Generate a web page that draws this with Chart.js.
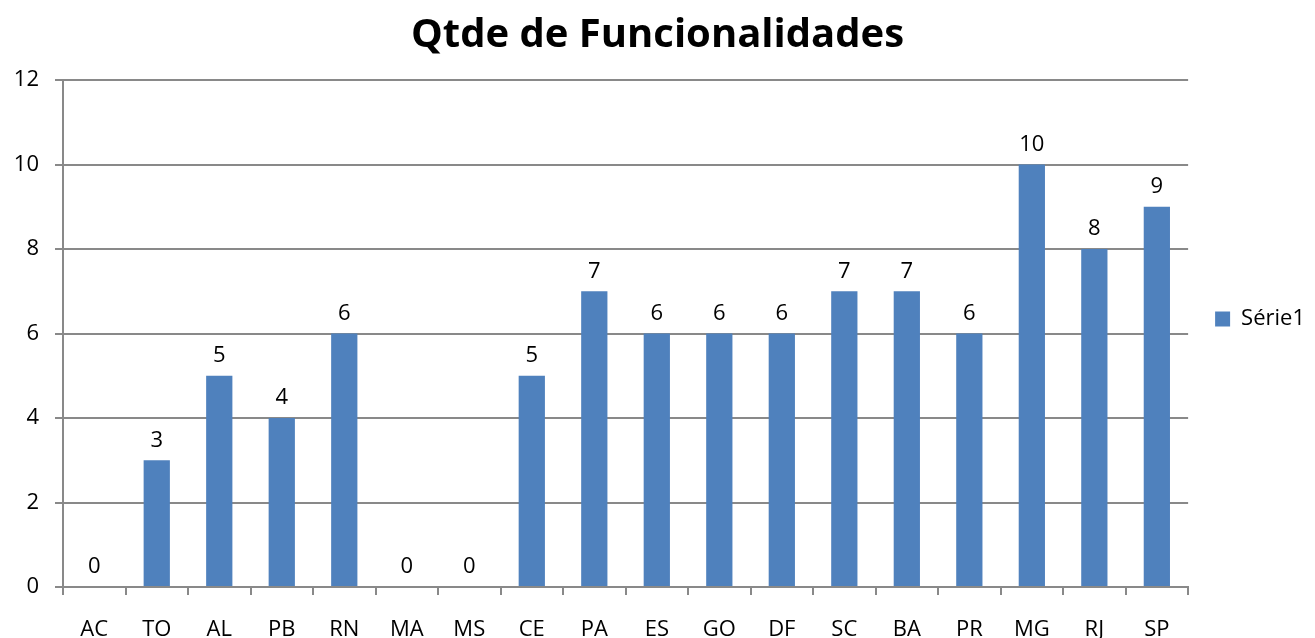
<!DOCTYPE html>
<html>
<head>
<meta charset="utf-8">
<script src="https://cdn.jsdelivr.net/npm/chart.js@4/dist/chart.umd.min.js"></script>
<style>
  html, body { margin: 0; padding: 0; background: #fff; }
  #wrap { width: 1315px; height: 638px; }
</style>
</head>
<body>
<div id="wrap"><canvas id="grafico"></canvas></div>
<script>
var estados = ["AC", "TO", "AL", "PB", "RN", "MA", "MS", "CE", "PA", "ES", "GO", "DF", "SC", "BA", "PR", "MG", "RJ", "SP"];
var serie1 = [0, 3, 5, 4, 6, 0, 0, 5, 7, 6, 6, 6, 7, 7, 6, 10, 8, 9];
var yTicks = [0, 2, 4, 6, 8, 10, 12];

var fonte = "'Open Sans', 'Liberation Sans', sans-serif";
var cinza = "#898989";

// rotulos de valor acima das barras
var rotulos = {
    id: "rotulos",
    afterDatasetsDraw: function (chart) {
        var ctx = chart.ctx;
        var meta = chart.getDatasetMeta(0);
        ctx.save();
        ctx.font = "22px " + fonte;
        ctx.fillStyle = "#000";
        ctx.textAlign = "center";
        ctx.textBaseline = "bottom";
        meta.data.forEach(function (bar, i) {
            ctx.fillText(String(serie1[i]), bar.x, bar.y - 9);
        });
        ctx.restore();
    }
};

var ctx = document.getElementById("grafico").getContext("2d");
var myChart = new Chart(ctx, {
    type: "bar",
    data: {
        labels: estados,
        datasets: [{
            label: "Série1",
            data: serie1,
            backgroundColor: "#4f81bd",
            borderColor: "#4f81bd",
            borderWidth: 0,
            barPercentage: 0.42,
            categoryPercentage: 1.0
        }]
    },
    options: {
        responsive: true,
        maintainAspectRatio: false,
        animation: false,
        layout: { padding: { top: 0, right: 0, bottom: 0, left: 0 } },
        plugins: {
            title: {
                display: true,
                text: "Qtde de Funcionalidades",
                color: "#000",
                font: { family: fonte, size: 40, weight: "bold" },
                padding: { top: 12, bottom: 20 }
            },
            legend: {
                position: "right",
                labels: {
                    color: "#000",
                    font: { family: fonte, size: 22 },
                    boxWidth: 15,
                    boxHeight: 15,
                    padding: 27
                }
            },
            tooltip: { enabled: false }
        },
        scales: {
            x: {
                afterFit: function (scale) { scale.height = 51; },
                grid: {
                    display: true,
                    drawOnChartArea: false,
                    drawTicks: true,
                    tickLength: 8,
                    color: cinza,
                    lineWidth: 2,
                    offset: true
                },
                border: { color: cinza, width: 2 },
                ticks: {
                    color: "#000",
                    font: { family: fonte, size: 22 },
                    padding: 22,
                    maxRotation: 0,
                    autoSkip: false
                }
            },
            y: {
                min: 0,
                max: 12,
                afterFit: function (scale) { scale.width = 63; },
                afterBuildTicks: function (scale) {
                    scale.ticks = yTicks.map(function (v) { return { value: v }; });
                },
                grid: {
                    color: cinza,
                    lineWidth: 2,
                    tickLength: 8
                },
                border: { color: cinza, width: 2 },
                ticks: {
                    color: "#000",
                    font: { family: fonte, size: 22 },
                    padding: 16
                }
            }
        }
    },
    plugins: [rotulos]
});
</script>
</body>
</html>
